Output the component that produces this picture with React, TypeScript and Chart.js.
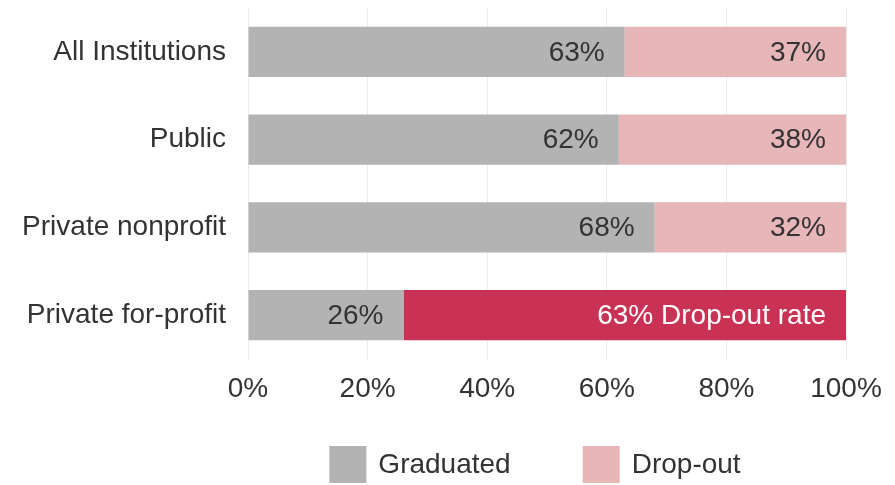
import React, { useEffect, useRef } from "react";
import { Chart, registerables } from "chart.js";

Chart.register(...registerables);

const categories = ["All Institutions", "Public", "Private nonprofit", "Private for-profit"];
const graduated = [63, 62, 68, 26];
const dropout = [37, 38, 32, 74];
const graduatedLabels = ["63%", "62%", "68%", "26%"];
const dropoutLabels = ["37%", "38%", "32%", "63% Drop-out rate"];
const seriesNames = ["Graduated", "Drop-out"];

const GREY = "#b3b3b3";
const PINK = "#e7b6b9";
const RED = "#c93254";
const FONT = "'Liberation Sans', Arial, Helvetica, sans-serif";
const FS = 28;

const valueLabelPlugin = {
  id: "valueLabels",
  afterDatasetsDraw(chart: any) {
    const ctx = chart.ctx;
    ctx.save();
    ctx.font = `${FS}px ${FONT}`;
    ctx.textAlign = "right";
    ctx.textBaseline = "middle";
    const labelSets = [graduatedLabels, dropoutLabels];
    chart.data.datasets.forEach((ds: any, di: number) => {
      const meta = chart.getDatasetMeta(di);
      meta.data.forEach((bar: any, i: number) => {
        const isRed = di === 1 && i === 3;
        ctx.fillStyle = isRed ? "#ffffff" : "#333333";
        ctx.fillText(labelSets[di][i], bar.x - 20, bar.y + 1);
      });
    });
    ctx.restore();
  },
};

const legendPlugin = {
  id: "customLegend",
  afterDraw(chart: any) {
    const ctx = chart.ctx;
    ctx.save();
    ctx.font = `${FS}px ${FONT}`;
    ctx.textBaseline = "middle";
    ctx.textAlign = "left";
    const box = 37;
    const gap = 12;
    const itemGap = 72;
    const colors = [GREY, PINK];
    const widths = seriesNames.map((n) => box + gap + ctx.measureText(n).width);
    const total = widths.reduce((a, b) => a + b, 0) + itemGap * (widths.length - 1);
    const center = (chart.chartArea.left + chart.chartArea.right) / 2 - 12;
    let x = center - total / 2;
    const yTop = 446;
    seriesNames.forEach((n, i) => {
      ctx.fillStyle = colors[i];
      ctx.fillRect(x, yTop, box, box);
      ctx.fillStyle = "#333333";
      ctx.fillText(n, x + box + gap, yTop + box / 2 + 1);
      x += widths[i] + itemGap;
    });
    ctx.restore();
  },
};

export default function App() {
  const ref = useRef<HTMLCanvasElement>(null);
  useEffect(() => {
    if (!ref.current) return;
    const chart = new Chart(ref.current, {
      type: "bar",
      data: {
        labels: categories,
        datasets: [
          {
            label: seriesNames[0],
            data: graduated,
            backgroundColor: GREY,
            barPercentage: 0.57,
            categoryPercentage: 1,
          },
          {
            label: seriesNames[1],
            data: dropout,
            backgroundColor: [PINK, PINK, PINK, RED],
            barPercentage: 0.57,
            categoryPercentage: 1,
          },
        ],
      },
      options: {
        indexAxis: "y",
        responsive: false,
        animation: false,
        layout: { padding: { top: 8, right: 49, bottom: 80, left: 0 } },
        plugins: {
          legend: { display: false },
          tooltip: { enabled: false },
        },
        scales: {
          x: {
            stacked: true,
            min: 0,
            max: 100,
            border: { display: false },
            grid: { color: "#ebebeb", drawTicks: false, lineWidth: 1 },
            ticks: {
              stepSize: 20,
              padding: 13,
              color: "#333333",
              font: { family: FONT, size: FS },
              callback: (v: any) => `${v}%`,
            },
            afterFit: (s: any) => {
              s.height = 46;
              s.paddingLeft = 0;
              s.paddingRight = 0;
            },
          },
          y: {
            stacked: true,
            border: { display: false },
            grid: { display: false, drawTicks: false },
            ticks: {
              padding: 22,
              color: "#333333",
              font: { family: FONT, size: FS },
            },
            afterFit: (s: any) => {
              s.width = 248;
              s.paddingTop = 0;
              s.paddingBottom = 0;
            },
          },
        },
      },
      plugins: [valueLabelPlugin, legendPlugin],
    });
    return () => chart.destroy();
  }, []);
  return (
    <div style={{ position: "fixed", left: 0, top: 0, width: 895, height: 485, background: "#fff" }}>
      <canvas ref={ref} width={895} height={485} style={{ width: 895, height: 485 }} />
    </div>
  );
}
